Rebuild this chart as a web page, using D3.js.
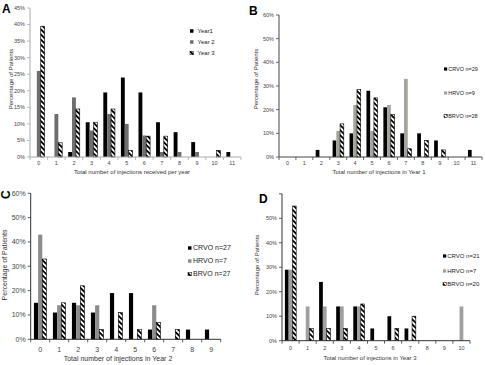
<!DOCTYPE html>
<html>
<head>
<meta charset="utf-8">
<script src="https://cdnjs.cloudflare.com/ajax/libs/d3/7.8.5/d3.min.js"></script>
<style>
  body { margin: 0; background: #fff; }
  svg { font-family: "Liberation Sans", Arial, sans-serif; }
</style>
</head>
<body>
<div class="content"></div>
<script>
// ---- data (percent of patients) ----
var injA = ["0","1","2","3","4","5","6","7","8","9","10","11"];
var year1 = [0, 0, 1.5, 10.5, 19.5, 24, 19.5, 10.5, 7.5, 4.5, 0, 1.5];
var year2 = [26, 13, 18, 8, 13, 10, 6.5, 1.5, 1.5, 1.5, 0, 0];
var year3 = [39.5, 4.3, 14.5, 10.5, 14.5, 2, 6.3, 6.3, 0, 0, 2, 0];
var ticksA = [0, 5, 10, 15, 20, 25, 30, 35, 40, 45];

var injB = ["0","1","2","3","4","5","6","7","8","9","10","11"];
var crvoB = [0, 0, 3, 7, 10, 28, 21, 10, 10, 7, 0, 3];
var hrvoB = [0, 0, 0, 11, 22, 11, 22, 33, 0, 0, 0, 0];
var brvoB = [0, 0, 0, 14, 28.5, 25, 18, 3.5, 7, 3, 0, 0];
var ticksB = [0, 10, 20, 30, 40, 50, 60];

var injC = ["0","1","2","3","4","5","6","7","8","9"];
var crvoC = [15, 11, 15, 11, 19, 19, 4, 0, 4, 4];
var hrvoC = [43, 14, 14, 14, 0, 0, 14, 0, 0, 0];
var brvoC = [33, 15, 22, 4, 11, 4, 7, 4, 0, 0];
var ticksC = [0, 10, 20, 30, 40, 50, 60];

var injD = ["0","1","2","3","4","5","6","7","8","9","10"];
var crvoD = [29, 0, 24, 14, 14, 5, 10, 5, 0, 0, 0];
var hrvoD = [29, 14, 14, 14, 14, 0, 0, 0, 0, 0, 14];
var brvoD = [55, 5, 5, 5, 15, 0, 5, 10, 0, 0, 0];
var ticksD = [0, 10, 20, 30, 40, 50];

var svg = d3.select(".content").append("svg")
  .attr("width", 485).attr("height", 365);

var defs = svg.append("defs");
var pat = defs.append("pattern")
  .attr("id", "hatch")
  .attr("patternUnits", "userSpaceOnUse")
  .attr("width", 3.6).attr("height", 3.6)
  .attr("patternTransform", "rotate(-45)");
pat.append("rect").attr("width", 3.6).attr("height", 3.6).attr("fill", "#fff");
pat.append("rect").attr("width", 1.8).attr("height", 3.6).attr("fill", "#000");

function panel(cfg) {
  var g = svg.append("g");
  var x = d3.scaleBand().domain(cfg.cats)
    .range([cfg.x0, cfg.x1]).paddingInner(0.34).paddingOuter(0.17);
  var y = d3.scaleLinear().domain([0, cfg.ymax]).range([cfg.y0, cfg.y1]);
  var sub = d3.scaleBand().domain(d3.range(cfg.series.length)).range([0, x.bandwidth()]);

  cfg.series.forEach(function(s, si) {
    g.selectAll(null).data(s.values).enter().append("rect")
      .attr("x", function(d, i) { return x(cfg.cats[i]) + sub(si); })
      .attr("y", function(d) { return y(d); })
      .attr("width", sub.bandwidth())
      .attr("height", function(d) { return cfg.y0 - y(d); })
      .attr("fill", s.fill)
      .attr("stroke", s.hatch ? "#000" : "none")
      .attr("stroke-width", 0.6)
      .style("display", function(d) { return d > 0 ? null : "none"; });
  });

  // y axis
  g.append("line").attr("x1", cfg.x0).attr("x2", cfg.x0)
    .attr("y1", cfg.y0).attr("y2", y(cfg.ymax))
    .attr("stroke", cfg.axisColor).attr("stroke-width", 1);
  cfg.ticks.forEach(function(t) {
    g.append("line").attr("x1", cfg.x0 - 3).attr("x2", cfg.x0)
      .attr("y1", y(t)).attr("y2", y(t))
      .attr("stroke", cfg.axisColor).attr("stroke-width", 0.8);
    g.append("text").attr("x", cfg.x0 - 5).attr("y", y(t))
      .attr("dy", "0.35em").attr("text-anchor", "end")
      .attr("font-size", cfg.tickSize).attr("fill", "#444")
      .text(t + "%");
  });
  if (cfg.topTick) {
    g.append("line").attr("x1", cfg.x0 - 3).attr("x2", cfg.x0)
      .attr("y1", y(cfg.ymax)).attr("y2", y(cfg.ymax))
      .attr("stroke", cfg.axisColor).attr("stroke-width", 0.8);
  }

  // x axis
  g.append("line").attr("x1", cfg.x0).attr("x2", cfg.x1)
    .attr("y1", cfg.y0).attr("y2", cfg.y0)
    .attr("stroke", cfg.axisColor).attr("stroke-width", 1);
  var step = x.step();
  d3.range(cfg.cats.length + 1).forEach(function(i) {
    var xx = cfg.x0 + i * step;
    g.append("line").attr("x1", xx).attr("x2", xx)
      .attr("y1", cfg.y0).attr("y2", cfg.y0 + 3)
      .attr("stroke", cfg.axisColor).attr("stroke-width", 0.8);
  });
  g.selectAll(null).data(cfg.cats).enter().append("text")
    .attr("x", function(d) { return x(d) + x.bandwidth() / 2; })
    .attr("y", cfg.y0 + cfg.xLabelOff)
    .attr("text-anchor", "middle")
    .attr("font-size", cfg.tickSize).attr("fill", "#444")
    .text(function(d) { return d; });

  g.append("text").attr("x", cfg.xTitleX).attr("y", cfg.xTitleY)
    .attr("text-anchor", "middle").attr("font-size", cfg.titleSize).attr("fill", "#333")
    .text(cfg.xTitle);
  g.append("text")
    .attr("transform", "translate(" + cfg.yTitleX + "," + cfg.yTitleY + ") rotate(-90)")
    .attr("text-anchor", "middle").attr("font-size", cfg.titleSize).attr("fill", "#333")
    .text("Percentage of Patients");

  // panel letter
  g.append("text")
    .attr("transform", "translate(" + cfg.letter[0] + "," + cfg.letter[1] + ")" + (cfg.letterRot ? " rotate(-90)" : ""))
    .attr("font-size", 12).attr("font-weight", "bold").attr("fill", "#000")
    .text(cfg.name);

  // legend
  cfg.series.forEach(function(s, si) {
    var ly = cfg.legY[si];
    g.append("rect").attr("x", cfg.legX).attr("y", ly - cfg.legBox / 2)
      .attr("width", cfg.legBox).attr("height", cfg.legBox)
      .attr("fill", s.fill).attr("stroke", s.hatch ? "#000" : "none").attr("stroke-width", 0.5);
    g.append("text").attr("x", cfg.legX + cfg.legBox + cfg.legGap).attr("y", ly)
      .attr("dy", "0.35em").attr("font-size", cfg.legSize).attr("fill", "#222")
      .text(s.name);
  });
}

panel({
  name: "A", letter: [2, 13], cats: injA,
  series: [
    { name: "Year1", values: year1, fill: "#000" },
    { name: "Year 2", values: year2, fill: "#6e6e6e" },
    { name: "Year 3", values: year3, fill: "url(#hatch)", hatch: true }
  ],
  x0: 30, x1: 241, y0: 157, y1: 8, ymax: 45, ticks: ticksA, axisColor: "#aaa",
  tickSize: 5.5, xLabelOff: 8, titleSize: 6,
  xTitle: "Total number of injections received per year", xTitleX: 132, xTitleY: 174,
  yTitleX: 13, yTitleY: 79,
  legX: 190, legY: [31, 42, 53], legBox: 3.5, legGap: 4, legSize: 6
});

panel({
  name: "B", letter: [249, 15], cats: injB,
  series: [
    { name: "CRVO n=29", values: crvoB, fill: "#000" },
    { name: "HRVO n=9", values: hrvoB, fill: "#a3a59c" },
    { name: "BRVO n=28", values: brvoB, fill: "url(#hatch)", hatch: true }
  ],
  x0: 279, x1: 482, y0: 157, y1: 15, ymax: 60, ticks: ticksB, axisColor: "#444",
  tickSize: 5.5, xLabelOff: 8, titleSize: 6,
  xTitle: "Total number of injections in Year 1", xTitleX: 379, xTitleY: 174,
  yTitleX: 258, yTitleY: 79,
  legX: 444, legY: [69, 93, 116], legBox: 3.2, legGap: 1, legSize: 5.5
});

panel({
  name: "C", letter: [10, 199], letterRot: true, cats: injC,
  series: [
    { name: "CRVO n=27", values: crvoC, fill: "#000" },
    { name: "HRVO n=7", values: hrvoC, fill: "#8c8c8c" },
    { name: "BRVO n=27", values: brvoC, fill: "url(#hatch)", hatch: true }
  ],
  x0: 30.7, x1: 220.7, y0: 339.3, y1: 193.3, ymax: 60, ticks: ticksC, axisColor: "#333",
  tickSize: 7, xLabelOff: 12.5, titleSize: 7,
  xTitle: "Total number of injections in Year 2", xTitleX: 118, xTitleY: 361,
  yTitleX: 7, yTitleY: 265,
  legX: 188, legY: [248, 261, 274], legBox: 3.5, legGap: 1.5, legSize: 7
});

panel({
  name: "D", letter: [259, 203], cats: injD,
  series: [
    { name: "CRVO n=21", values: crvoD, fill: "#000" },
    { name: "HRVO n=7", values: hrvoD, fill: "#a0a0a0" },
    { name: "BRVO n=20", values: brvoD, fill: "url(#hatch)", hatch: true }
  ],
  x0: 282, x1: 470, y0: 340.7, y1: 193.8, ymax: 60, ticks: ticksD, topTick: true, axisColor: "#333",
  tickSize: 5.5, xLabelOff: 9, titleSize: 6,
  xTitle: "Total number of injections in Year 3", xTitleX: 370, xTitleY: 360,
  yTitleX: 259, yTitleY: 265,
  legX: 443, legY: [256, 271, 284], legBox: 3.2, legGap: 1, legSize: 6
});
</script>
</body>
</html>
